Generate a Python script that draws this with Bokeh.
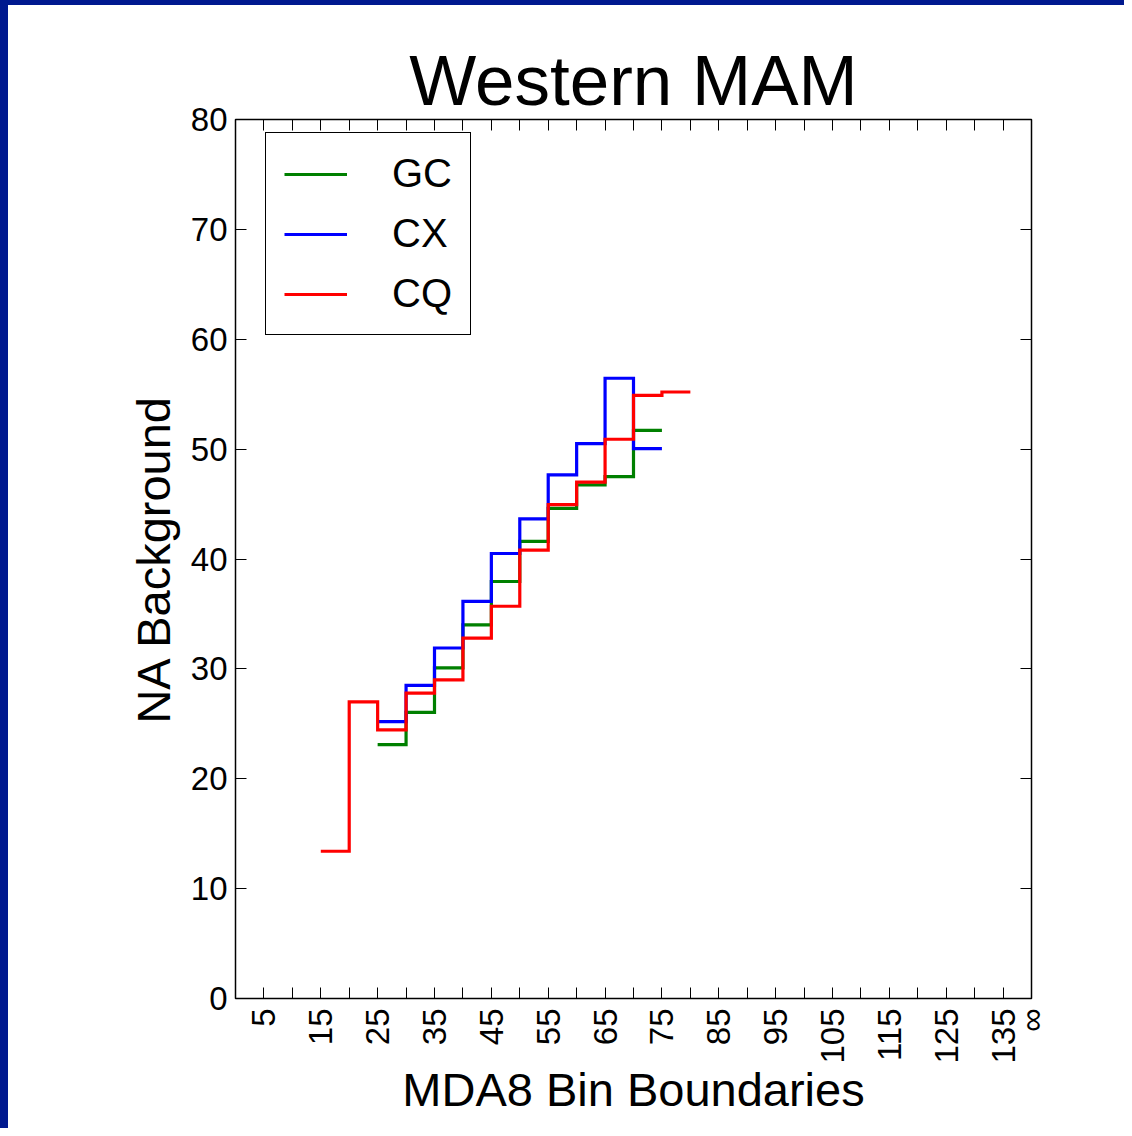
import math
from bokeh.plotting import figure
from bokeh.models import (Range1d, FixedTicker, LinearAxis, Legend, LegendItem,
                          CustomLabelingPolicy)
from bokeh.embed import file_html
from bokeh.resources import INLINE

# ---- data ----
gc_edges = [25, 30, 35, 40, 45, 50, 55, 60, 65, 70, 75]
gc_vals = [23.1, 26.05, 30.1, 34.0, 37.95, 41.6, 44.6, 46.75, 47.5, 51.7]

cx_edges = [25, 30, 35, 40, 45, 50, 55, 60, 65, 70, 75]
cx_vals = [25.2, 28.5, 31.9, 36.15, 40.5, 43.65, 47.65, 50.5, 56.45, 50.05]

cq_edges = [15, 20, 25, 30, 35, 40, 45, 50, 55, 60, 65, 70, 75, 80]
cq_vals = [13.4, 27.0, 24.45, 27.8, 29.0, 32.8, 35.7, 40.8, 44.95, 47.0, 50.9, 54.9, 55.2]

x_major_ticks = [5, 15, 25, 35, 45, 55, 65, 75, 85, 95, 105, 115, 125, 135, 140]
x_minor_ticks = [10, 20, 30, 40, 50, 60, 70, 80, 90, 100, 110, 120, 130]
x_tick_labels = {140: "\u221e"}
y_ticks = [0, 10, 20, 30, 40, 50, 60, 70, 80]

FONT = "Liberation Sans"
W, H = 1124, 1128

p = figure(width=W, height=H, output_backend="svg", toolbar_location=None,
           x_range=Range1d(0, 140), y_range=Range1d(0, 80),
           min_border_left=227, min_border_right=101,
           min_border_top=114, min_border_bottom=135,
           title="Western MAM")

# navy page frame on the left and top edges
p.styles = {"border-left": "8px solid #00198f", "border-top": "5px solid #00198f"}

p.background_fill_color = "white"
p.border_fill_color = "white"
p.outline_line_color = "black"
p.outline_line_width = 1.5
p.outline_line_alpha = 1.0
p.xgrid.visible = False
p.ygrid.visible = False

p.title.text_font = FONT
p.title.text_font_size = "71px"
p.title.text_font_style = "normal"
p.title.text_color = "black"
p.title.align = "center"
p.title.standoff = -8

xt = FixedTicker(ticks=x_major_ticks, minor_ticks=x_minor_ticks)
yt = FixedTicker(ticks=y_ticks, minor_ticks=[])


def style_axis(ax, show_labels):
    ax.axis_line_color = None
    ax.major_tick_in = 11
    ax.major_tick_out = 0
    ax.minor_tick_in = 11
    ax.minor_tick_out = 0
    ax.major_tick_line_color = "black"
    ax.minor_tick_line_color = "black"
    ax.major_tick_line_width = 1
    ax.minor_tick_line_width = 1
    ax.major_label_text_font = FONT
    ax.major_label_text_color = "black"
    if show_labels:
        ax.major_label_text_font_size = "33px"
    else:
        ax.major_label_text_font_size = "1px"
        ax.major_label_standoff = 0
        ax.major_label_policy = CustomLabelingPolicy(code="return new Set()")


xa = p.xaxis[0]
xa.ticker = xt
style_axis(xa, True)
xa.major_label_orientation = math.pi / 2
xa.major_label_overrides = x_tick_labels
xa.major_label_standoff = 10
xa.axis_label = "MDA8 Bin Boundaries"
xa.axis_label_text_font = FONT
xa.axis_label_text_font_size = "47px"
xa.axis_label_text_font_style = "normal"
xa.axis_label_text_color = "black"
xa.axis_label_standoff = -4

ya = p.yaxis[0]
ya.ticker = yt
style_axis(ya, True)
ya.major_label_standoff = 8
ya.axis_label = "NA Background"
ya.axis_label_text_font = FONT
ya.axis_label_text_font_size = "47px"
ya.axis_label_text_font_style = "normal"
ya.axis_label_text_color = "black"
ya.axis_label_standoff = 8

top = LinearAxis(ticker=xt)
style_axis(top, False)
p.add_layout(top, "above")

right = LinearAxis(ticker=yt)
style_axis(right, False)
p.add_layout(right, "right")

r_gc = p.step(gc_edges, gc_vals + gc_vals[-1:], mode="after",
              line_color="#008000", line_width=3.2, line_join="miter")
r_cx = p.step(cx_edges, cx_vals + cx_vals[-1:], mode="after",
              line_color="#0000ff", line_width=3.2, line_join="miter")
r_cq = p.step(cq_edges, cq_vals + cq_vals[-1:], mode="after",
              line_color="#ff0000", line_width=3.2, line_join="miter")

legend = Legend(items=[LegendItem(label="GC", renderers=[r_gc]),
                       LegendItem(label="CX", renderers=[r_cx]),
                       LegendItem(label="CQ", renderers=[r_cq])],
                location=(30, 663), margin=0, padding=18, spacing=15,
                glyph_width=63, glyph_height=20, label_standoff=45,
                label_width=60,
                label_text_font=FONT, label_text_font_size="40px",
                label_text_color="black",
                border_line_color="black", border_line_width=1.5,
                border_line_alpha=1.0,
                background_fill_color="white", background_fill_alpha=1.0)
p.add_layout(legend)

open("out.html", "w").write(file_html(p, INLINE))
